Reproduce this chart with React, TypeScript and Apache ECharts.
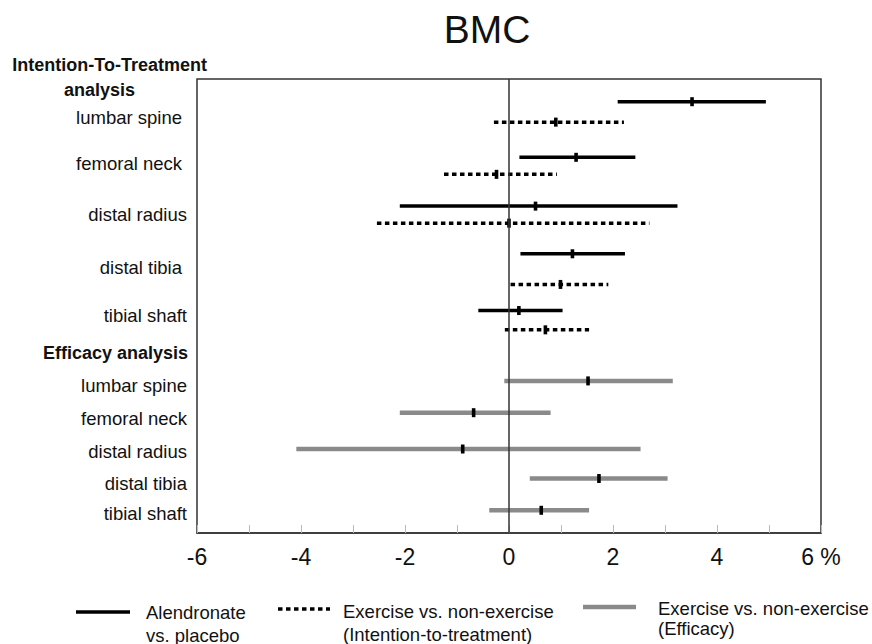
import React, { useEffect, useRef } from 'react';
import * as echarts from 'echarts';

const FONT = '"Liberation Sans", Arial, Helvetica, sans-serif';

// Sites (rows within each analysis block)
const sites = ['lumbar spine', 'femoral neck', 'distal radius', 'distal tibia', 'tibial shaft'];

// Alendronate vs. placebo (ITT), % change: lower CI, upper CI, estimate
const alendLow = [2.09, 0.2, -2.1, 0.22, -0.59];
const alendHigh = [4.94, 2.43, 3.24, 2.23, 1.03];
const alendEst = [3.52, 1.29, 0.51, 1.22, 0.19];

// Exercise vs. non-exercise (Intention-to-treatment)
const exIttLow = [-0.29, -1.25, -2.54, 0.03, -0.08];
const exIttHigh = [2.21, 0.92, 2.7, 1.91, 1.54];
const exIttEst = [0.9, -0.24, 0.0, 0.99, 0.7];

// Exercise vs. non-exercise (Efficacy)
const exEffLow = [-0.09, -2.1, -4.09, 0.4, -0.38];
const exEffHigh = [3.15, 0.8, 2.53, 3.05, 1.54];
const exEffEst = [1.52, -0.68, -0.89, 1.73, 0.62];

// Forest-plot row index (in row units, top = 0)
const alendRow = [1.0, 3.45, 5.6, 7.7, 10.2];
const exIttRow = [1.9, 4.2, 6.35, 9.05, 11.05];
const exEffRow = [13.3, 14.7, 16.3, 17.6, 19.0];

const xMin = -6;
const xMax = 6;
const xUnit = '%';

function makeSeries(
  name: string,
  low: number[],
  high: number[],
  est: number[],
  row: number[],
  stroke: string,
  width: number,
  dash: number[] | null
) {
  return {
    type: 'custom',
    name,
    clip: false,
    data: low.map((l, i) => [l, high[i], est[i], row[i]]),
    encode: { x: [0, 1, 2], y: 3 },
    renderItem: (params: any, api: any) => {
      const lo = api.coord([api.value(0), api.value(3)]);
      const hi = api.coord([api.value(1), api.value(3)]);
      const mid = api.coord([api.value(2), api.value(3)]);
      return {
        type: 'group',
        children: [
          {
            type: 'line',
            shape: { x1: lo[0], y1: lo[1], x2: hi[0], y2: hi[1] },
            style: { stroke, lineWidth: width, lineDash: dash || undefined, lineCap: 'butt' },
          },
          {
            type: 'rect',
            shape: { x: mid[0] - 1.8, y: mid[1] - 4.5, width: 3.6, height: 9 },
            style: { fill: '#000' },
          },
        ],
      };
    },
  };
}

export default function App() {
  const ref = useRef<HTMLDivElement>(null);
  useEffect(() => {
    const chart = echarts.init(ref.current!, null, { renderer: 'svg', width: 872, height: 644 });

    const labelStyle = (text: string, x: number, y: number, bold = false, size = 18.5) => ({
      type: 'text',
      x,
      y,
      style: {
        text,
        fill: '#111',
        font: `${bold ? 'bold ' : ''}${size}px ${FONT}`,
        textAlign: 'right',
        textVerticalAlign: 'middle',
      },
    });

    const ittLabelY = [117, 163, 214, 267, 315];
    const ittLabelX = [182, 182, 187, 182, 187];
    const effLabelY = [385, 418, 451, 483, 513];

    const graphic: any[] = [
      {
        type: 'text',
        x: 487,
        y: 29,
        style: {
          text: 'BMC',
          fill: '#111',
          font: `39px ${FONT}`,
          textAlign: 'center',
          textVerticalAlign: 'middle',
        },
      },
      labelStyle('Intention-To-Treatment', 207, 65, true, 18),
      labelStyle('analysis', 135, 90, true, 18),
      labelStyle('Efficacy analysis', 188, 353, true, 18),
      ...sites.map((s, i) => labelStyle(s, ittLabelX[i], ittLabelY[i])),
      ...sites.map((s, i) => labelStyle(s, 187, effLabelY[i])),
      // legend
      { type: 'line', shape: { x1: 76, y1: 612, x2: 130, y2: 612 }, style: { stroke: '#000', lineWidth: 3.5 } },
      { type: 'line', shape: { x1: 278, y1: 609, x2: 330, y2: 609 }, style: { stroke: '#000', lineWidth: 3.5, lineDash: [4.5, 3.5] } },
      { type: 'line', shape: { x1: 583, y1: 607, x2: 636, y2: 607 }, style: { stroke: '#8a8a8a', lineWidth: 4.5 } },
    ];
    const legTexts: [string, number, number][] = [
      ['Alendronate', 146, 612],
      ['vs. placebo', 146, 635],
      ['Exercise vs. non-exercise', 343, 611],
      ['(Intention-to-treatment)', 343, 634],
      ['Exercise vs. non-exercise', 658, 608],
      ['(Efficacy)', 658, 628],
    ];
    legTexts.forEach(([t, x, y]) =>
      graphic.push({
        type: 'text',
        x,
        y,
        style: { text: t, fill: '#111', font: `18.5px ${FONT}`, textAlign: 'left', textVerticalAlign: 'middle' },
      })
    );

    const option: any = {
      animation: false,
      backgroundColor: '#fff',
      grid: {
        left: 197,
        right: 51,
        top: 79,
        bottom: 111,
        show: true,
        borderColor: '#333',
        borderWidth: 1.5,
        backgroundColor: 'transparent',
      },
      xAxis: {
        type: 'value',
        position: 'bottom',
        min: xMin,
        max: xMax,
        interval: 1,
        axisLine: { show: true, onZero: false, lineStyle: { color: '#333', width: 1.5 } },
        axisTick: { show: true, inside: true, length: 8, lineStyle: { color: '#bbb', width: 1 } },
        splitLine: { show: false },
        axisLabel: {
          fontSize: 23,
          fontFamily: FONT,
          color: '#111',
          margin: 12,
          formatter: (v: number) => {
            if (Math.round(v) % 2 !== 0) return '';
            return v === xMax ? `${v} ${xUnit}` : String(v);
          },
        },
      },
      yAxis: { type: 'value', inverse: true, min: 0, max: 20, show: false },
      graphic,
      series: [
        {
          type: 'line',
          data: [],
          markLine: {
            silent: true,
            symbol: ['none', 'none'],
            label: { show: false },
            lineStyle: { color: '#333', width: 1.5, type: 'solid' },
            data: [{ xAxis: 0 }],
          },
        },
        makeSeries('Alendronate vs. placebo', alendLow, alendHigh, alendEst, alendRow, '#000', 3.5, null),
        makeSeries('Exercise vs. non-exercise (Intention-to-treatment)', exIttLow, exIttHigh, exIttEst, exIttRow, '#000', 3.5, [4.5, 3.5]),
        makeSeries('Exercise vs. non-exercise (Efficacy)', exEffLow, exEffHigh, exEffEst, exEffRow, '#8a8a8a', 4.5, null),
      ],
    };
    chart.setOption(option);
    return () => chart.dispose();
  }, []);
  return (
    <div
      ref={ref}
      style={{ position: 'fixed', left: 0, top: 0, width: 872, height: 644, background: '#fff' }}
    />
  );
}
